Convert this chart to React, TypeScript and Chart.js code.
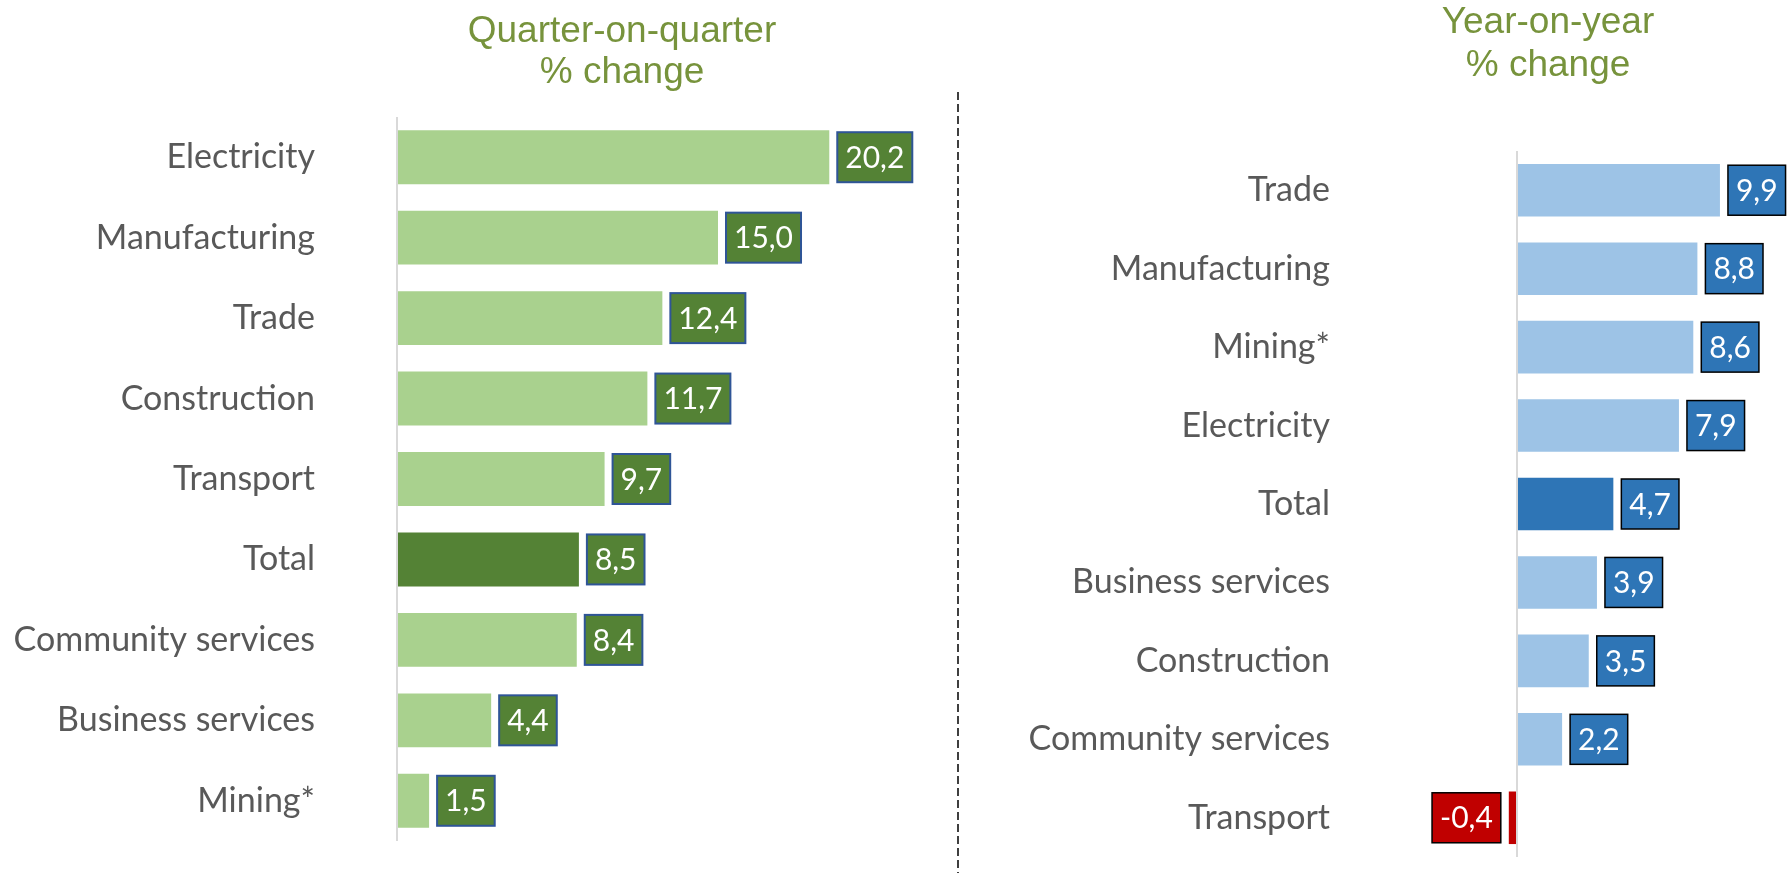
import React, { useEffect, useRef } from 'react';
import { Chart, registerables } from 'chart.js';

Chart.register(...registerables);

const qoqCategories = ['Electricity', 'Manufacturing', 'Trade', 'Construction', 'Transport', 'Total', 'Community services', 'Business services', 'Mining*'];
const qoqValues = [20.2, 15.0, 12.4, 11.7, 9.7, 8.5, 8.4, 4.4, 1.5];
const yoyCategories = ['Trade', 'Manufacturing', 'Mining*', 'Electricity', 'Total', 'Business services', 'Construction', 'Community services', 'Transport'];
const yoyValues = [9.9, 8.8, 8.6, 7.9, 4.7, 3.9, 3.5, 2.2, -0.4];
const qoqTitle = ['Quarter-on-quarter', '% change'];
const yoyTitle = ['Year-on-year', '% change'];

const LABEL_FONT = 'Lato, "Open Sans", sans-serif';
const TITLE_FONT = '"Liberation Sans", Arial, sans-serif';

const titlePlugin = {
  id: 'sideTitle',
  afterDraw(chart: any, _args: any, opts: any) {
    const ctx = chart.ctx;
    ctx.save();
    ctx.font = `37px ${TITLE_FONT}`;
    ctx.fillStyle = '#77933C';
    ctx.textAlign = 'center';
    ctx.textBaseline = 'alphabetic';
    (opts.lines as string[]).forEach((line, i) => {
      ctx.fillText(line, opts.x, opts.baselines[i]);
    });
    ctx.restore();
  },
};

const boxLabelPlugin = {
  id: 'boxLabels',
  afterDatasetsDraw(chart: any, _args: any, opts: any) {
    const ctx = chart.ctx;
    const meta = chart.getDatasetMeta(0);
    const data = chart.data.datasets[0].data as number[];
    ctx.save();
    ctx.font = `30px ${LABEL_FONT}`;
    meta.data.forEach((bar: any, i: number) => {
      const v = data[i];
      const text = v.toFixed(1).replace('.', ',');
      const tw = ctx.measureText(text).width;
      const w = tw + 2 * opts.padX;
      const h = opts.height;
      const x = v >= 0 ? bar.x + opts.gap : bar.x - opts.gap - w;
      const y = bar.y - h / 2;
      ctx.fillStyle = v >= 0 ? opts.fill : opts.negFill;
      ctx.fillRect(x, y, w, h);
      ctx.lineWidth = opts.borderWidth;
      ctx.strokeStyle = opts.border;
      ctx.strokeRect(x, y, w, h);
      ctx.fillStyle = '#FFFFFF';
      ctx.textAlign = 'center';
      ctx.textBaseline = 'middle';
      ctx.fillText(text, x + w / 2, bar.y + 1);
    });
    ctx.restore();
  },
};

type PanelProps = {
  categories: string[];
  values: number[];
  light: string;
  dark: string;
  neg: string;
  xMin: number;
  xMax: number;
  axisWidth: number;
  tickPad: number;
  padTop: number;
  padBottom: number;
  padRight: number;
  title: string[];
  titleX: number;
  titleBaselines: number[];
  boxFill: string;
  boxBorder: string;
  boxBorderWidth: number;
  width: number;
  height: number;
  left: number;
};

function Panel(p: PanelProps) {
  const ref = useRef<HTMLCanvasElement | null>(null);
  useEffect(() => {
    if (!ref.current) return;
    const colors = p.values.map((v, i) =>
      v < 0 ? p.neg : p.categories[i] === 'Total' ? p.dark : p.light
    );
    const chart = new Chart(ref.current, {
      type: 'bar',
      data: {
        labels: p.categories,
        datasets: [
          {
            data: p.values,
            backgroundColor: colors,
            borderWidth: 0,
            categoryPercentage: 1,
            barPercentage: 0.67,
          },
        ],
      },
      options: {
        indexAxis: 'y',
        animation: false,
        responsive: false,
        maintainAspectRatio: false,
        devicePixelRatio: 1,
        layout: { padding: { top: p.padTop, bottom: p.padBottom, right: p.padRight, left: 0 } },
        scales: {
          x: {
            type: 'linear',
            min: p.xMin,
            max: p.xMax,
            position: 'bottom',
            ticks: { display: false, stepSize: 1 },
            border: { display: false },
            grid: {
              drawTicks: false,
              lineWidth: 2,
              color: (ctx: any) => (ctx.tick && ctx.tick.value === 0 ? '#D9D9D9' : 'rgba(0,0,0,0)'),
            },
          },
          y: {
            type: 'category',
            grid: { display: false, drawTicks: false },
            border: { display: false },
            ticks: {
              padding: p.tickPad,
              color: '#595959',
              font: { family: LABEL_FONT, size: 34 },
              autoSkip: false,
            },
            afterFit: (scale: any) => {
              scale.width = p.axisWidth;
              scale.paddingTop = 0;
              scale.paddingBottom = 0;
            },
          },
        },
        plugins: {
          legend: { display: false },
          tooltip: { enabled: false },
          title: { display: false },
          sideTitle: { lines: p.title, x: p.titleX, baselines: p.titleBaselines },
          boxLabels: {
            padX: 8,
            height: 50,
            gap: 8,
            fill: p.boxFill,
            negFill: '#C00000',
            border: p.boxBorder,
            borderWidth: p.boxBorderWidth,
          },
        } as any,
      },
      plugins: [titlePlugin, boxLabelPlugin],
    });
    return () => chart.destroy();
  }, []);
  return (
    <canvas
      ref={ref}
      width={p.width}
      height={p.height}
      style={{ position: 'absolute', left: p.left, top: 0, width: p.width, height: p.height }}
    />
  );
}

export default function App() {
  return (
    <div
      style={{
        position: 'fixed',
        left: 0,
        top: 0,
        width: 1790,
        height: 873,
        background: '#FFFFFF',
        overflow: 'hidden',
      }}
    >
      <Panel
        categories={qoqCategories}
        values={qoqValues}
        light="#A9D18E"
        dark="#548235"
        neg="#C00000"
        xMin={0}
        xMax={25}
        axisWidth={397}
        tickPad={82}
        padTop={117}
        padBottom={32}
        padRight={25}
        title={qoqTitle}
        titleX={622}
        titleBaselines={[42, 83]}
        boxFill="#548235"
        boxBorder="#2F5597"
        boxBorderWidth={2}
        width={957}
        height={873}
        left={0}
      />
      <Panel
        categories={yoyCategories}
        values={yoyValues}
        light="#9DC3E6"
        dark="#2E75B6"
        neg="#C00000"
        xMin={-2}
        xMax={12}
        axisWidth={519}
        tickPad={146}
        padTop={151}
        padBottom={16}
        padRight={27}
        title={yoyTitle}
        titleX={591}
        titleBaselines={[33, 76]}
        boxFill="#2E75B6"
        boxBorder="#000000"
        boxBorderWidth={1.5}
        width={833}
        height={873}
        left={957}
      />
      <svg
        width={4}
        height={873}
        style={{ position: 'absolute', left: 956, top: 0 }}
      >
        <line x1={2} y1={92} x2={2} y2={873} stroke="#000000" strokeWidth={1.5} strokeDasharray="8 4" />
      </svg>
    </div>
  );
}
